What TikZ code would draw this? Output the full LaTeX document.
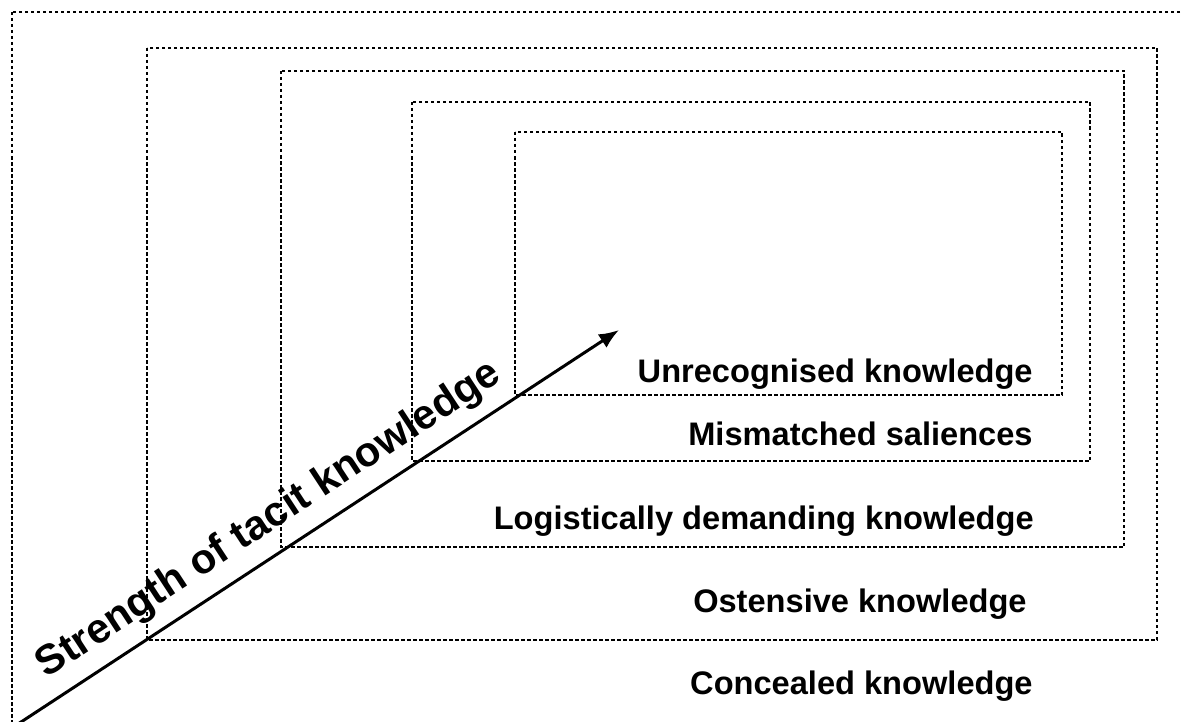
\documentclass[tikz,border=0pt]{standalone}
\usepackage{fontspec}
\setmainfont{Liberation Sans}
\usetikzlibrary{arrows.meta,positioning}

\begin{document}
\begin{tikzpicture}[
    x=0.5pt, y=-0.5pt,
    layer/.style={draw=black, line width=0.85pt, dash pattern=on 1.75pt off 1.25pt},
    label/.style={anchor=base east, inner sep=0pt, font=\fontsize{16.3}{18}\selectfont\bfseries},
    arrow/.style={-{Latex[length=10pt,width=8pt]}, line width=1.5pt},
    axislabel/.style={sloped, anchor=base, inner sep=0pt, yshift=11pt, font=\fontsize{20.8}{24}\selectfont\bfseries}
]
\clip (0,0) rectangle (1183,722);

% Nested layers
\draw[layer] (12,12) rectangle (1200,740);
\draw[layer] (147,48) rectangle (1157,640);
\draw[layer] (281,71) rectangle (1124,547);
\draw[layer] (412,102) rectangle (1090,461);
\draw[layer] (515,132) rectangle (1062,395);

% Layer names
\node[label] (unrecog) at (1033,382) {Unrecognised knowledge};
\node[label] (mismatch) at (1033,445) {Mismatched saliences};
\node[label] (logistic) at (1034,529) {Logistically demanding knowledge};
\node[label] (ostensive) at (1027,612) {Ostensive knowledge};
\node[label] (concealed) at (1033,694) {Concealed knowledge};

% Strength axis
\coordinate (tail) at (18,724);
\coordinate (head) at (619,330);
\draw[arrow] (tail) -- node[axislabel, pos=0.4475] (strength) {Strength of tacit knowledge} (head);

\end{tikzpicture}
\end{document}
